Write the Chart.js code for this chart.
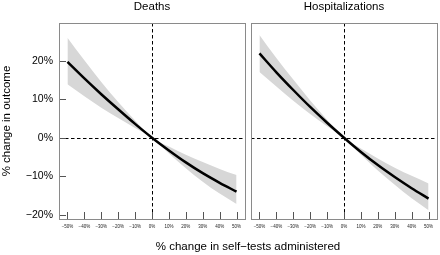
<!DOCTYPE html>
<html>
<head>
<meta charset="utf-8">
<script src="https://cdn.jsdelivr.net/npm/chart.js@4.4.1/dist/chart.umd.min.js"></script>
<style>
    body { margin: 0; background: #ffffff; }
    #wrap { position: relative; width: 440px; height: 255px; font-family: "Liberation Sans", Arial, sans-serif; }
    #wrap canvas { position: absolute; left: 0; top: 0; }
    #xlabel { position: absolute; left: 59px; width: 378px; top: 239px; text-align: center; font-size: 11.5px; line-height: 14px; color: #000; }
</style>
</head>
<body>
<div id="wrap">
    <canvas id="chartDeaths" width="440" height="255"></canvas>
    <canvas id="chartHosp" width="440" height="255"></canvas>
    <div id="xlabel">% change in self−tests administered</div>
</div>
<script>
// % change in self-tests (x positions of every value below)
const changeTests = [-50, -40, -30, -20, -10, 0, 10, 20, 30, 40, 50];

// Deaths: estimate + confidence band (in %)
const deathsEst = [19.7, 15.4, 11.3, 7.4, 3.6, 0, -3.3, -6.4, -9.2, -11.7, -14.0];
const deathsUpper = [26.0, 20.1, 14.5, 9.3, 4.5, 0, -2.3, -4.4, -6.3, -8.1, -9.7];
const deathsLower = [13.9, 10.8, 7.8, 5.1, 2.5, 0, -4.1, -7.9, -11.4, -14.5, -17.2];

// Hospitalizations
const hospEst = [21.9, 17.0, 12.4, 8.0, 3.9, 0, -3.7, -7.1, -10.2, -13.1, -15.8];
const hospUpper = [26.7, 20.7, 15.1, 9.7, 4.7, 0, -2.8, -5.4, -7.8, -9.9, -11.9];
const hospLower = [17.1, 13.3, 9.6, 6.2, 3.0, 0, -4.4, -8.5, -12.2, -15.7, -18.8];

// tick labels
const xTicks = [-50, -40, -30, -20, -10, 0, 10, 20, 30, 40, 50];
const yTicks = [-20, -10, 0, 10, 20];

const FONT = "'Liberation Sans', Arial, sans-serif";

function pct(v) {
    return (v < 0 ? "\u2212" + Math.abs(v) : v) + "%";
}

function points(ys) {
    return changeTests.map((x, i) => ({ x: x, y: ys[i] }));
}

// frame, inward ticks and dashed zero lines
const panelFrame = {
    id: "panelFrame",
    beforeDatasetsDraw(chart) {
        const a = chart.chartArea;
        const ctx = chart.ctx;
        const x0 = Math.round(chart.scales.x.getPixelForValue(0)) + 0.5;
        const y0 = Math.round(chart.scales.y.getPixelForValue(0)) + 0.5;
        ctx.save();
        ctx.strokeStyle = "#000000";
        ctx.lineWidth = 1;
        ctx.setLineDash([3.5, 2.5]);
        ctx.beginPath();
        ctx.moveTo(a.left, y0);
        ctx.lineTo(a.right, y0);
        ctx.moveTo(x0, a.top);
        ctx.lineTo(x0, a.bottom);
        ctx.stroke();
        ctx.restore();
    },
    afterDraw(chart, args, opts) {
        const a = chart.chartArea;
        const ctx = chart.ctx;
        ctx.save();
        ctx.lineWidth = 1;
        ctx.strokeStyle = "#555555";
        ctx.beginPath();
        xTicks.forEach(v => {
            const px = Math.round(chart.scales.x.getPixelForValue(v)) + 0.5;
            ctx.moveTo(px, a.bottom);
            ctx.lineTo(px, a.bottom - 7);
        });
        if (opts.yTicks) {
            yTicks.forEach(v => {
                const py = Math.round(chart.scales.y.getPixelForValue(v)) + 0.5;
                ctx.moveTo(a.left, py);
                ctx.lineTo(a.left + 7, py);
            });
        }
        ctx.stroke();
        ctx.strokeStyle = "#8a8a8a";
        ctx.strokeRect(Math.round(a.left) + 0.5, Math.round(a.top) + 0.5,
            Math.round(a.right - a.left), Math.round(a.bottom - a.top));
        ctx.restore();
    }
};

function makePanel(canvasId, title, est, upper, lower, isLeft) {
    new Chart(document.getElementById(canvasId), {
        type: "line",
        data: {
            datasets: [
                {
                    data: points(est),
                    order: 0,
                    borderColor: "#000000",
                    borderWidth: 2.5,
                    pointRadius: 0,
                    fill: false,
                    cubicInterpolationMode: "monotone"
                },
                {
                    data: points(lower),
                    order: 1,
                    borderWidth: 0,
                    pointRadius: 0,
                    fill: false,
                    cubicInterpolationMode: "monotone"
                },
                {
                    data: points(upper),
                    order: 1,
                    borderWidth: 0,
                    pointRadius: 0,
                    backgroundColor: "#d7d7d7",
                    fill: "-1",
                    cubicInterpolationMode: "monotone"
                }
            ]
        },
        options: {
            responsive: false,
            animation: false,
            layout: {
                padding: isLeft ? { left: 0, right: 195, top: 0, bottom: 0 }
                                : { left: 251, right: 3, top: 0, bottom: 0 }
            },
            plugins: {
                legend: { display: false },
                tooltip: { enabled: false },
                title: {
                    display: true,
                    text: title,
                    fullSize: false,
                    color: "#000000",
                    font: { family: FONT, size: 11.5, weight: "normal" },
                    padding: { top: 0, bottom: 9.2 }
                },
                panelFrame: { yTicks: isLeft }
            },
            scales: {
                x: {
                    type: "linear",
                    min: -55,
                    max: 55,
                    afterBuildTicks: s => { s.ticks = xTicks.map(v => ({ value: v })); },
                    afterFit: s => { s.height = 36; },
                    grid: { display: false, drawTicks: false },
                    border: { display: false },
                    ticks: {
                        autoSkip: false,
                        maxRotation: 0,
                        padding: 5,
                        color: "#222222",
                        font: { family: FONT, size: 4.5 },
                        callback: v => pct(v)
                    }
                },
                y: {
                    display: isLeft,
                    min: -21.1,
                    max: 29.8,
                    afterBuildTicks: s => { s.ticks = yTicks.map(v => ({ value: v })); },
                    afterFit: s => { s.width = isLeft ? 59 : 0; },
                    grid: { display: false, drawTicks: false },
                    border: { display: false },
                    ticks: {
                        padding: 6,
                        color: "#000000",
                        font: { family: FONT, size: 10.5 },
                        callback: v => pct(v)
                    },
                    title: {
                        display: true,
                        text: "% change in outcome",
                        color: "#000000",
                        padding: 0,
                        font: { family: FONT, size: 11.5 }
                    }
                }
            }
        },
        plugins: [panelFrame]
    });
}

makePanel("chartDeaths", "Deaths", deathsEst, deathsUpper, deathsLower, true);
makePanel("chartHosp", "Hospitalizations", hospEst, hospUpper, hospLower, false);
</script>
</body>
</html>
